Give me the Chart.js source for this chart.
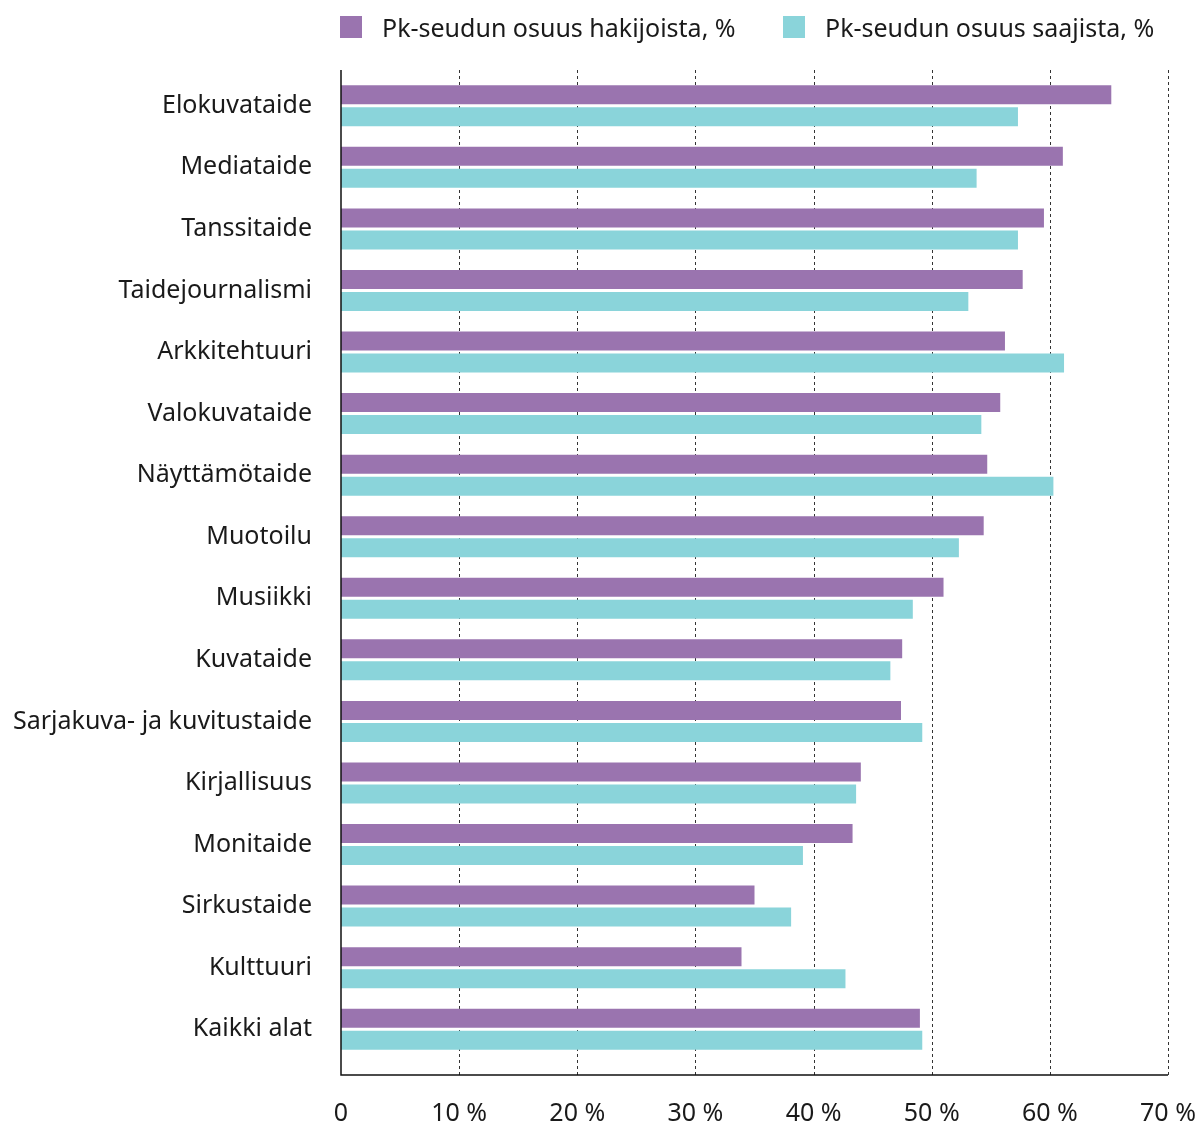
<!DOCTYPE html>
<html>
<head>
<meta charset="utf-8">
<script src="https://cdn.jsdelivr.net/npm/chart.js@4.4.1/dist/chart.umd.min.js"></script>
<style>
  body { margin: 0; background: #fff; font-family: 'Noto Sans', sans-serif; }
  #wrap { position: relative; width: 1199px; height: 1126px; }
  .leg { position: absolute; top: 16px; height: 22px; display: flex; align-items: center; font-size: 25px; color: #1a1a1a; white-space: nowrap; }
  .leg .box { width: 22px; height: 22px; margin-right: 20px; flex: none; }
</style>
</head>
<body>
<div id="wrap">
  <canvas id="chart" width="1199" height="1126"></canvas>
  <div id="legend"></div>
</div>
<script>
// Categories (top to bottom)
const categories = [
  'Elokuvataide', 'Mediataide', 'Tanssitaide', 'Taidejournalismi', 'Arkkitehtuuri',
  'Valokuvataide', 'Näyttämötaide', 'Muotoilu', 'Musiikki', 'Kuvataide',
  'Sarjakuva- ja kuvitustaide', 'Kirjallisuus', 'Monitaide', 'Sirkustaide', 'Kulttuuri', 'Kaikki alat'
];
// Pk-seudun osuus hakijoista, %
const applicants = [65.2, 61.1, 59.5, 57.7, 56.2, 55.8, 54.7, 54.4, 51.0, 47.5, 47.4, 44.0, 43.3, 35.0, 33.9, 49.0];
// Pk-seudun osuus saajista, %
const recipients = [57.3, 53.8, 57.3, 53.1, 61.2, 54.2, 60.3, 52.3, 48.4, 46.5, 49.2, 43.6, 39.1, 38.1, 42.7, 49.2];

const seriesNames = ['Pk-seudun osuus hakijoista, %', 'Pk-seudun osuus saajista, %'];
const seriesColors = ['#9A74AF', '#8AD4DA'];
const xTicks = [0, 10, 20, 30, 40, 50, 60, 70];

// legend
const legendPos = [340, 783];
document.getElementById('legend').innerHTML = seriesNames.map((n, i) =>
  `<div class="leg" style="left:${legendPos[i]}px"><span class="box" style="background:${seriesColors[i]}"></span>${n}</div>`
).join('');

// dashed grid + axis lines, extended a bit beyond the bar area
const framePlugin = {
  id: 'frame',
  beforeDatasetsDraw(chart) {
    const { ctx, scales: { x } } = chart;
    ctx.save();
    ctx.strokeStyle = '#333';
    ctx.lineWidth = 1;
    ctx.setLineDash([3, 3]);
    xTicks.slice(1).forEach(v => {
      const px = Math.round(x.getPixelForValue(v)) + 0.5;
      ctx.beginPath();
      ctx.moveTo(px, 70);
      ctx.lineTo(px, 1075);
      ctx.stroke();
    });
    ctx.restore();
  },
  afterDatasetsDraw(chart) {
    const { ctx, scales: { x } } = chart;
    const x0 = x.getPixelForValue(0);
    const x1 = x.getPixelForValue(70);
    ctx.save();
    ctx.strokeStyle = '#111';
    ctx.lineWidth = 1.5;
    ctx.beginPath();
    ctx.moveTo(x0, 70);
    ctx.lineTo(x0, 1075);
    ctx.lineTo(x1, 1075);
    ctx.stroke();
    ctx.restore();
  }
};

new Chart(document.getElementById('chart'), {
  type: 'bar',
  data: {
    labels: categories,
    datasets: [
      { label: seriesNames[0], data: applicants, backgroundColor: seriesColors[0] },
      { label: seriesNames[1], data: recipients, backgroundColor: seriesColors[1] },
    ],
  },
  options: {
    indexAxis: 'y',
    responsive: false,
    animation: false,
    categoryPercentage: 0.7145,
    barPercentage: 0.864,
    layout: { padding: { top: 75, right: 0, bottom: 0, left: 0 } },
    plugins: { legend: { display: false }, tooltip: { enabled: false } },
    scales: {
      x: {
        min: 0, max: 70,
        border: { display: false },
        grid: { display: false, drawTicks: false },
        afterFit: s => { s.height = 66; s.paddingRight = 31; s.paddingLeft = 0; },
        ticks: {
          stepSize: 10,
          padding: 39,
          maxRotation: 0,
          minRotation: 0,
          autoSkip: false,
          color: '#1a1a1a',
          font: { family: 'Noto Sans', size: 25 },
          callback: v => v === 0 ? '0' : v + ' %',
        },
      },
      y: {
        border: { display: false },
        grid: { display: false, drawTicks: false },
        afterFit: s => { s.width = 341; },
        ticks: {
          padding: 29,
          color: '#1a1a1a',
          font: { family: 'Noto Sans', size: 25 },
        },
      },
    },
  },
  plugins: [framePlugin],
});
</script>
</body>
</html>
